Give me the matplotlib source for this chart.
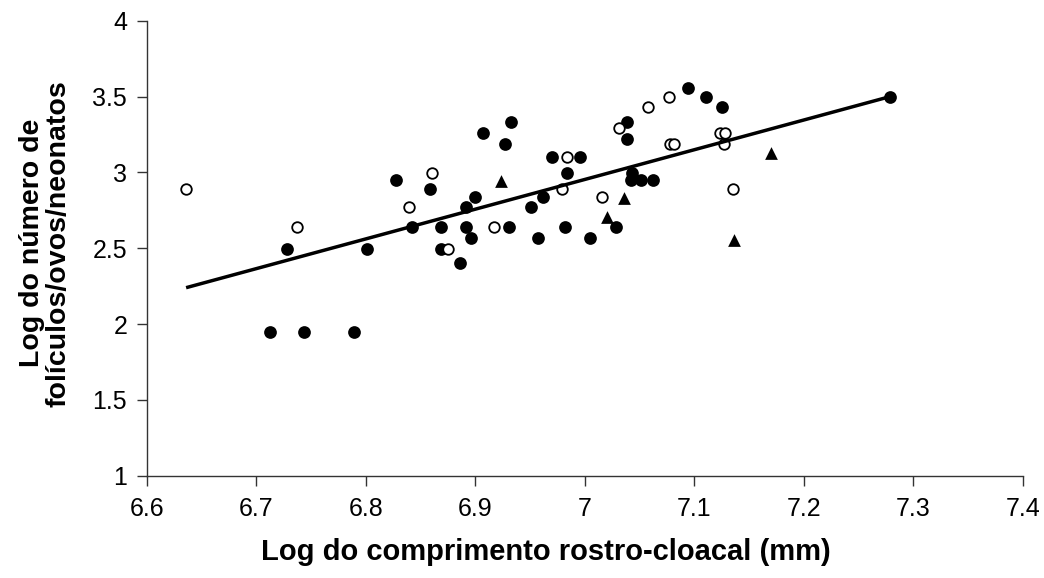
import matplotlib
matplotlib.use("Agg")
import matplotlib.pyplot as plt
import numpy as np

# Filled circles
filled_x = [6.713, 6.744, 6.789, 6.728, 6.801, 6.828, 6.859, 6.842, 6.869, 6.869,
            6.886, 6.892, 6.900, 6.892, 6.896, 6.931, 6.907, 6.933, 6.927,
            6.951, 6.962, 6.957, 6.970, 6.996, 6.984, 6.982,
            7.005, 7.029, 7.039, 7.039, 7.043, 7.042, 7.051, 7.062,
            7.094, 7.111, 7.125, 7.279]
filled_y = [1.946, 1.946, 1.946, 2.493, 2.493, 2.950, 2.889, 2.638, 2.638, 2.493,
            2.405, 2.774, 2.836, 2.638, 2.566, 2.638, 3.258, 3.332, 3.185,
            2.774, 2.836, 2.566, 3.099, 3.099, 2.998, 2.640,
            2.566, 2.640, 3.332, 3.222, 2.998, 2.950, 2.950, 2.950,
            3.554, 3.495, 3.433, 3.495]

# Open circles
open_x = [6.636, 6.737, 6.861, 6.840, 6.875, 6.917, 6.984, 6.979, 7.016, 7.031,
          7.058, 7.077, 7.078, 7.082, 7.124, 7.128, 7.127, 7.135]
open_y = [2.889, 2.638, 2.998, 2.774, 2.493, 2.638, 3.099, 2.889, 2.836, 3.295,
          3.433, 3.495, 3.187, 3.187, 3.258, 3.258, 3.187, 2.889]

# Triangles
tri_x = [6.924, 7.020, 7.036, 7.136, 7.170]
tri_y = [2.940, 2.708, 2.829, 2.556, 3.126]

# Trend line (y = a + b*x) and its x range
trend_a = -10.767
trend_b = 1.96
trend_x = [6.636, 7.279]

xticks = [6.6, 6.7, 6.8, 6.9, 7.0, 7.1, 7.2, 7.3, 7.4]
xtick_labels = ["6.6", "6.7", "6.8", "6.9", "7", "7.1", "7.2", "7.3", "7.4"]
yticks = [1, 1.5, 2, 2.5, 3, 3.5, 4]
ytick_labels = ["1", "1.5", "2", "2.5", "3", "3.5", "4"]

plt.rcParams['font.family'] = ['Liberation Sans', 'DejaVu Sans']

fig = plt.figure(figsize=(10.44, 5.78), dpi=100)
ax = fig.add_axes([0.1405, 0.177, 0.8391, 0.7872])

ax.scatter(filled_x, filled_y, s=84, marker='o', color='black', zorder=3, linewidths=0)
ax.scatter(open_x, open_y, s=58, marker='o', facecolor='white', edgecolor='black',
           linewidths=1.3, zorder=3)
ax.scatter(tri_x, tri_y, s=84, marker='^', color='black', zorder=3, linewidths=0)

tx = np.array(trend_x)
ax.plot(tx, trend_a + trend_b * tx, color='black', lw=2.5, zorder=4,
        solid_capstyle='butt')

ax.set_xlim(6.6, 7.4)
ax.set_ylim(1, 4)
ax.set_xticks(xticks)
ax.set_xticklabels(xtick_labels)
ax.set_yticks(yticks)
ax.set_yticklabels(ytick_labels)

for s in ['top', 'right']:
    ax.spines[s].set_visible(False)
for s in ['left', 'bottom']:
    ax.spines[s].set_color('#333333')
    ax.spines[s].set_linewidth(1.0)

ax.tick_params(axis='both', direction='out', length=7, width=1.0, color='#333333',
               labelsize=18)
ax.tick_params(axis='x', pad=8)
ax.tick_params(axis='y', pad=7)

ax.set_xlabel("Log do comprimento rostro-cloacal (mm)", fontsize=21, fontweight='bold')
ax.xaxis.set_label_coords(0.456, -0.168)
ax.xaxis.label.set_va('center')

ax.set_ylabel("Log do número de\nfolículos/ovos/neonatos", fontsize=20.5, fontweight='bold',
              linespacing=1.05)
ax.yaxis.set_label_coords(-0.116, 0.511)
ax.yaxis.label.set_va('center')

fig.savefig("out.png", dpi=100)
